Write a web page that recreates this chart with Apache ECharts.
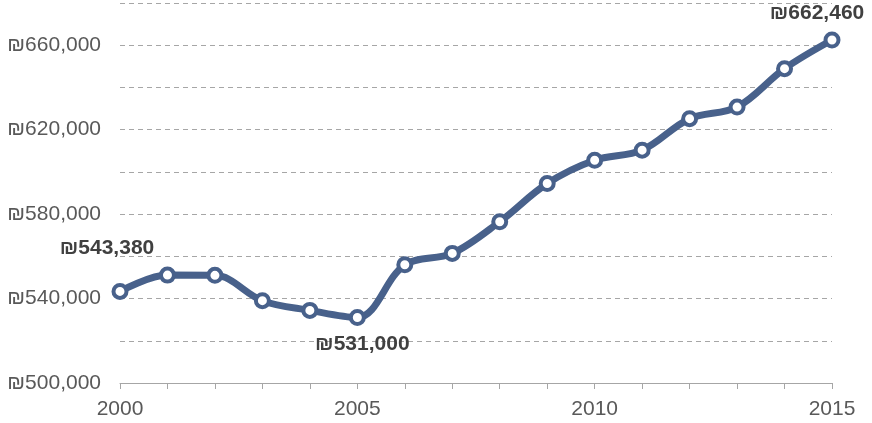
<!DOCTYPE html>
<html>
<head>
<meta charset="utf-8">
<script src="https://cdn.jsdelivr.net/npm/echarts@6/dist/echarts.min.js"></script>
<style>
html,body{margin:0;padding:0;background:#fff;}
#chart{width:872px;height:423px;}
</style>
</head>
<body>
<div id="chart"></div>
<script>
const years = ['2000','2001','2002','2003','2004','2005','2006','2007','2008','2009','2010','2011','2012','2013','2014','2015'];
const values = [543380, 551100, 551000, 539000, 534400, 531000, 556000, 561400, 576400, 594500, 605500, 610300, 625200, 630700, 648900, 662460];
const labeledPoints = {0: 'topleft', 5: 'bottom', 15: 'top'};

const lineColor = '#48618b';
const fontFamily = 'Liberation Sans, Arial, sans-serif';

function fmt(v) {
  return '\u20AA' + v.toLocaleString('en-US');
}

const labelCfg = {
  topleft: {position: 'top', offset: [-13, -19]},
  bottom: {position: 'bottom', offset: [5, 3]},
  top: {position: 'top', offset: [-15, -3]}
};

const seriesData = values.map((v, i) => {
  const k = labeledPoints[i];
  if (!k) return v;
  return {
    value: v,
    label: Object.assign({
      show: true,
      formatter: fmt(v),
      fontWeight: 'bold',
      fontSize: 21,
      color: '#404040',
      fontFamily: fontFamily
    }, labelCfg[k])
  };
});

const chart = echarts.init(document.getElementById('chart'));
chart.setOption({
  animation: false,
  grid: {left: 120, right: 40, top: 3, bottom: 40},
  xAxis: {
    type: 'category',
    data: years,
    boundaryGap: false,
    axisLine: {lineStyle: {color: '#a6a6a6', width: 1}},
    axisTick: {show: true, interval: 0, length: 6, lineStyle: {color: '#a6a6a6'}},
    axisLabel: {interval: 4, margin: 16, fontSize: 21, color: '#595959', fontFamily: fontFamily},
    splitLine: {show: false}
  },
  yAxis: {
    type: 'value',
    min: 500000,
    max: 680000,
    interval: 20000,
    axisLine: {show: false},
    axisTick: {show: false},
    axisLabel: {
      margin: 19,
      fontSize: 21,
      color: '#595959',
      fontFamily: fontFamily,
      formatter: function (v) {
        return ((v - 500000) % 40000 === 0) ? fmt(v) : '';
      }
    },
    splitLine: {show: true, lineStyle: {color: '#a6a6a6', type: [5, 4], width: 1}}
  },
  series: [{
    type: 'line',
    data: seriesData,
    smooth: 0.35,
    symbol: 'circle',
    symbolSize: 13,
    showAllSymbol: true,
    lineStyle: {color: lineColor, width: 7},
    itemStyle: {color: '#ffffff', borderColor: lineColor, borderWidth: 4},
    label: {show: false},
    z: 3
  }]
});
</script>
</body>
</html>
